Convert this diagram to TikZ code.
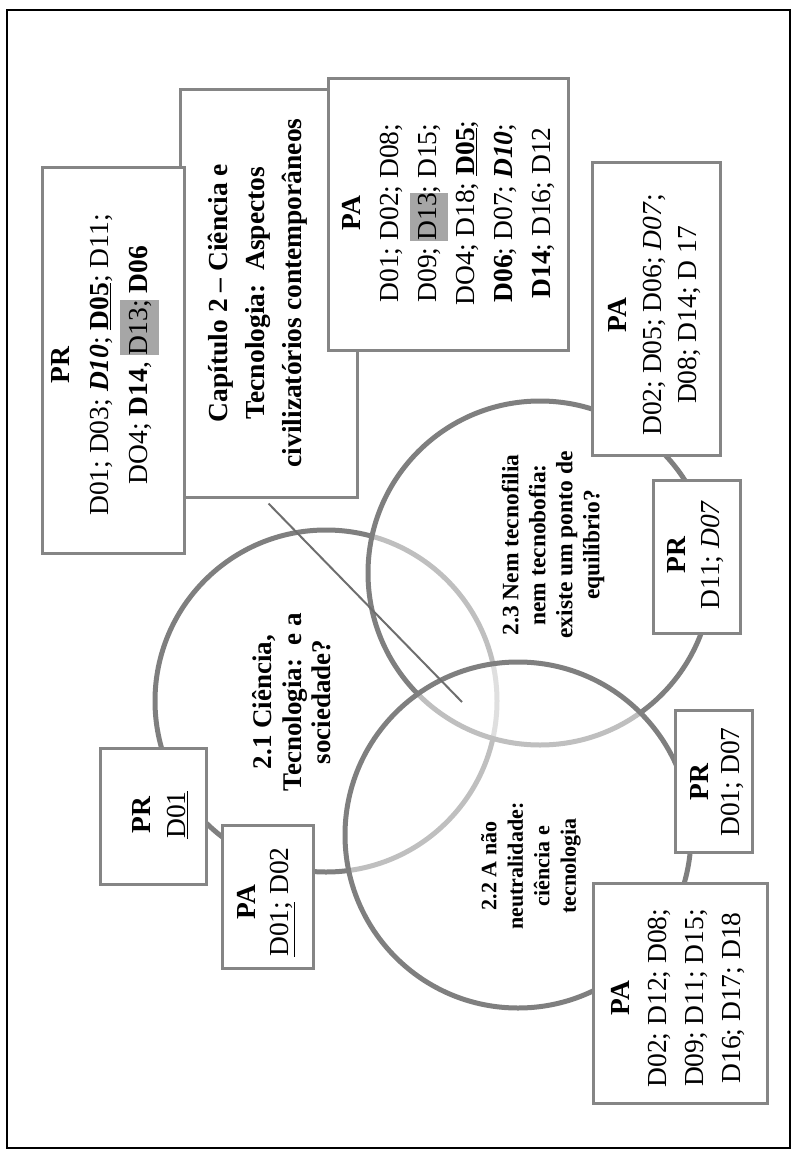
\documentclass[tikz,border=0pt]{standalone}
\usepackage{fontspec}
\setmainfont{Liberation Serif}
\definecolor{ringgray}{HTML}{7F7F7F}
\definecolor{boxgray}{HTML}{858585}
\definecolor{hl}{HTML}{A6A6A6}
\definecolor{pointer}{HTML}{6E6E6E}
\newcommand\hlt[1]{{\setlength{\fboxsep}{0pt}\colorbox{hl}{\strut#1}}}
\begin{document}
\begin{tikzpicture}[x=1pt,y=-1pt,
    ring/.style={circle,draw=ringgray,line width=5pt,inner sep=0pt},
    veil/.style={ring,fill=white,fill opacity=0.5},
    box/.style={draw=boxgray,line width=3pt,fill=white,inner sep=0pt},
    lbl/.style={rotate=90,align=center,inner sep=0pt,font=\fontsize{27.5}{37}\selectfont},
    topic/.style={rotate=90,align=center,inner sep=0pt,font=\bfseries\fontsize{27}{29.5}\selectfont}
]
\useasboundingbox (0,0) rectangle (797,1155);
\draw[line width=1.5pt] (7,10) rectangle (790,1148);

% the three topics
\node[ring, minimum size=342] (c1) at (326,701) {};
\node[veil, minimum size=344] (c3) at (540,573) {};
\node[veil, minimum size=346] (c2) at (518,835) {};

% chapter and its pointer
\node[box, minimum width=177, minimum height=407] (cap) at (268.5,293.5) {};
\node[lbl, font=\bfseries\fontsize{27.5}{37}\selectfont] (cap-t) at (258,293)
    {Capítulo 2 – Ciência e\\ Tecnologia:\ \ Aspectos\\ civilizatórios contemporâneos};
\coordinate (hub) at (462,702);
\draw[pointer, line width=2pt] ([yshift=-5pt]cap.south) -- (hub);

\node[box, minimum width=142, minimum height=385] (prA) at (113,360.5) {};
\node[lbl, font=\fontsize{27.5}{39}\selectfont] (prA-t) at (105,365)
    {\textbf{PR}\\ D01; D03; \textbf{\textit{D10}}; \underline{\textbf{D05}}; D11;\\
     DO4; \textbf{D14}, \hlt{D13;} \textbf{D06}};

\node[box, minimum width=240, minimum height=271] (paA) at (448,214.5) {};
\node[lbl, font=\fontsize{27.5}{38}\selectfont] (paA-t) at (449,213)
    {\textbf{PA}\\ D01; D02; D08;\\ D09; \hlt{D13}; D15;\\ DO4; D18; \underline{\textbf{D05}};\\
     \textbf{D06}; D07; \textbf{\textit{D10}};\\ \textbf{D14}; D16; D12};

\node[box, minimum width=128, minimum height=292] (paB) at (656,309) {};
\node[lbl, font=\fontsize{27.5}{35}\selectfont] (paB-t) at (655,315)
    {\textbf{PA}\\ D02; D05; D06; \textit{D07};\\ D08; D14; D 17};

\node[box, minimum width=87, minimum height=153] (prB) at (696.5,556.5) {};
\node[lbl, font=\fontsize{27.5}{34}\selectfont] (prB-t) at (696,555)
    {\textbf{PR}\\ D11; \textit{D07}};

\node[box, minimum width=77, minimum height=142] (prC) at (713.5,781) {};
\node[lbl, font=\fontsize{27.5}{31}\selectfont] (prC-t) at (717,782)
    {\textbf{PR}\\ D01; D07};

\node[box, minimum width=174, minimum height=220] (paC) at (680,993) {};
\node[lbl, font=\fontsize{27.5}{36.7}\selectfont] (paC-t) at (678,998)
    {\textbf{PA}\\ D02; D12; D08;\\ D09; D11; D15;\\ D16; D17; D18};

\node[box, minimum width=106, minimum height=136] (prD) at (153,816) {};
\node[lbl, font=\fontsize{27.5}{35}\selectfont] (prD-t) at (160.5,815)
    {\textbf{PR}\\ \underline{D01}};

\node[box, minimum width=91, minimum height=143] (paD) at (267.5,896.5) {};
\node[lbl, font=\fontsize{27.5}{33}\selectfont] (paD-t) at (266.5,902)
    {\textbf{PA}\\ \underline{D01;} D02};

% topic titles
\node[topic] (c1-t) at (292,702) {2.1 Ciência,\\ Tecnologia:\ \ e a\\ sociedade?};
\node[topic, font=\bfseries\fontsize{23.5}{27}\selectfont] (c3-t) at (553,545)
    {2.3 Nem tecnofilia\\ nem tecnobofia:\\ existe um ponto de\\ equilíbrio?};
\node[topic, font=\bfseries\fontsize{22}{26.5}\selectfont] (c2-t) at (531,866)
    {2.2 A não\\ neutralidade:\\ ciência e\\ tecnologia};
\end{tikzpicture}
\end{document}
